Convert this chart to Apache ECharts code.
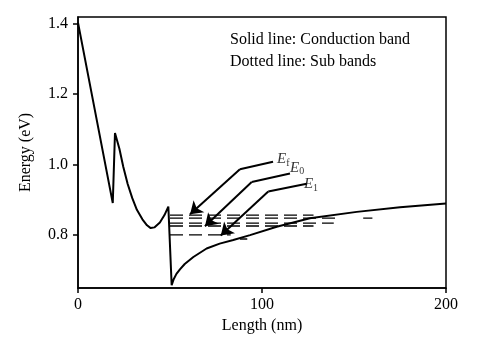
<!DOCTYPE html>
<html>
<head>
<meta charset="utf-8">
<script src="https://cdn.jsdelivr.net/npm/echarts@6/dist/echarts.min.js"></script>
<style>html,body{margin:0;padding:0;background:#fff}#c{width:491px;height:343px}</style>
</head>
<body>
<div id="c"></div>
<script>
// Conduction band (solid) : [length nm, energy eV]
const conductionBand = [
  [0, 1.403], [18.9, 0.891], [20.1, 1.090], [22.5, 1.045], [24.6, 0.994], [27, 0.945],
  [29.5, 0.905], [32, 0.872], [35, 0.845], [37.5, 0.828], [39.5, 0.820], [41.5, 0.822],
  [44.5, 0.836], [47, 0.857], [49.1, 0.881], [50.9, 0.658], [52, 0.675], [53.5, 0.690],
  [55.4, 0.703], [58, 0.718], [62.7, 0.738], [69.9, 0.762], [77, 0.776], [84.4, 0.786],
  [93.5, 0.800], [108, 0.824], [126, 0.848], [151.5, 0.866], [175, 0.879], [200, 0.890]
];
// Sub bands (dashed): [startX, endX, energy]
const subBands = [
  [50, 128, 0.857],
  [50, 142, 0.848],
  [50, 139, 0.834],
  [50, 128, 0.826],
  [50, 83, 0.801],
  [155, 160, 0.848],
  [88, 92, 0.789]
];
// Arrows (polyline, last point = arrow tip)
const arrowEf = [[106.0, 1.008], [88.0, 0.987], [60.9, 0.859]];
const arrowE0 = [[115.2, 0.975], [94.4, 0.951], [69.0, 0.825]];
const arrowE1 = [[124.3, 0.946], [103.4, 0.924], [77.6, 0.799]];
const arrowLabels = [
  {pos: [108.2, 1.016], sub: 'f'},
  {pos: [115.2, 0.991], sub: '0'},
  {pos: [122.8, 0.945], sub: '1'}
];
const yTicks = [0.8, 1.0, 1.2, 1.4];
const xTicks = [0, 100, 200];
const legendLines = ['Solid line: Conduction band', 'Dotted line: Sub bands'];

const FONT = '"Liberation Serif", "Times New Roman", serif';
const chart = echarts.init(document.getElementById('c'), null, {renderer: 'canvas'});

const arrows = [arrowEf, arrowE0, arrowE1];
const series = [];
series.push({
  type: 'line', data: conductionBand, showSymbol: false, smooth: false,
  lineStyle: {color: '#000', width: 2}, z: 5, animation: false
});
subBands.forEach(b => {
  series.push({
    type: 'line', data: [[b[0], b[2]], [b[1], b[2]]], showSymbol: false,
    lineStyle: {color: '#000', width: 1.3, type: [13, 6]}, animation: false
  });
});
// first segments, no head
series.push({
  type: 'lines', coordinateSystem: 'cartesian2d',
  symbol: ['none', 'none'],
  lineStyle: {color: '#000', width: 2, opacity: 1, curveness: 0},
  data: arrows.map(a => ({coords: [a[0], a[1]]})),
  animation: false, z: 6
});
// final segments with arrow heads
series.push({
  type: 'lines', coordinateSystem: 'cartesian2d',
  symbol: ['none', 'arrow'], symbolSize: [9, 12],
  lineStyle: {color: '#000', width: 2, opacity: 1, curveness: 0},
  data: arrows.map(a => ({coords: [a[1], a[2]]})),
  animation: false, z: 6
});
series.push({
  type: 'scatter', symbolSize: 0, animation: false, silent: true,
  data: arrowLabels.map(l => ({
    value: l.pos,
    label: {
      show: true, position: 'right', distance: 0,
      formatter: '{e|E}{s|' + l.sub + '}',
      rich: {
        e: {fontFamily: FONT, fontStyle: 'italic', fontSize: 15, color: '#000'},
        s: {fontFamily: FONT, fontSize: 10, color: '#000', verticalAlign: 'bottom', padding: [8, 0, 0, 0]}
      }
    }
  }))
});

chart.setOption({
  animation: false,
  grid: {left: 78, right: 45, top: 17, bottom: 55, show: true, borderColor: '#000', borderWidth: 1.5},
  xAxis: {
    type: 'value', min: 0, max: 200,
    name: 'Length (nm)', nameLocation: 'middle', nameGap: 29,
    nameTextStyle: {fontFamily: FONT, fontSize: 16, color: '#000'},
    axisLine: {show: true, lineStyle: {color: '#000', width: 1.5}},
    axisTick: {show: true, length: 5, lineStyle: {color: '#000', width: 1.5}, customValues: xTicks},
    axisLabel: {fontFamily: FONT, fontSize: 16, color: '#000', margin: 9, customValues: xTicks},
    splitLine: {show: false}
  },
  yAxis: {
    type: 'value', min: 0.65, max: 1.419,
    name: 'Energy (eV)', nameLocation: 'middle', nameGap: 44,
    nameTextStyle: {fontFamily: FONT, fontSize: 16, color: '#000'},
    axisLine: {show: true, lineStyle: {color: '#000', width: 1.5}},
    axisTick: {show: true, length: 5, lineStyle: {color: '#000', width: 1.5}, customValues: yTicks},
    axisLabel: {fontFamily: FONT, fontSize: 16, color: '#000', margin: 10, customValues: yTicks,
      formatter: v => v.toFixed(1)},
    splitLine: {show: false}
  },
  graphic: legendLines.map((t, i) => ({
    type: 'text', left: 230, top: 32 + i * 21.5,
    style: {text: t, fontFamily: FONT, fontSize: 16, fill: '#000'}
  })),
  series: series
});
</script>
</body>
</html>
